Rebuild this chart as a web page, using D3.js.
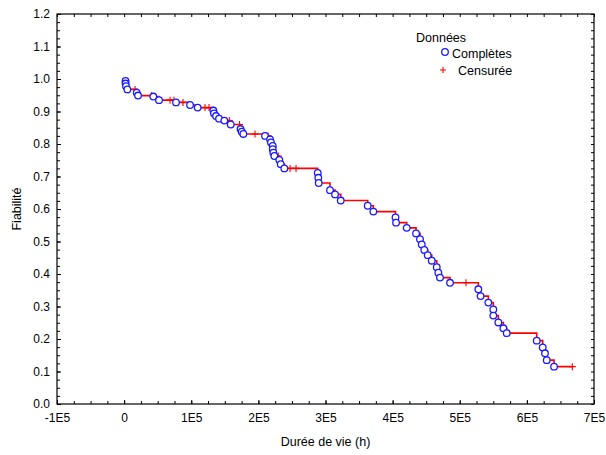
<!DOCTYPE html>
<html>
<head>
<meta charset="utf-8">
<script src="https://cdn.jsdelivr.net/npm/d3@7"></script>
<style>
  html, body { margin: 0; padding: 0; background: #fff; }
  svg text { font-family: "Liberation Sans", Arial, sans-serif; fill: #000; }
</style>
</head>
<body>
<svg id="chart" width="606" height="455"></svg>
<script>
// Failures (complete observations): time in hours and reliability estimate
const completeTime = [2100, 2100, 2800, 4800, 18800, 20700, 43500, 52000, 77300, 98200,
  109600, 132900, 133900, 136900, 141400, 149300, 158800, 173400, 175200, 177600,
  209900, 217400, 218800, 221400, 221400, 222300, 223800, 231200, 233300, 238700,
  288400, 289300, 289900, 306700, 314200, 322700, 362900, 371300, 404300, 405100,
  421000, 434900, 440800, 443400, 447200, 452300, 458300, 465700, 468100, 470600,
  485500, 527700, 531000, 542600, 550000, 550000, 557500, 565000, 570000, 614700,
  623600, 627000, 629600, 640500];
const completeRel = [0.994, 0.986, 0.978, 0.968, 0.958, 0.949, 0.946, 0.935, 0.928, 0.920,
  0.912, 0.903, 0.894, 0.886, 0.878, 0.872, 0.860, 0.846, 0.838, 0.831,
  0.825, 0.814, 0.805, 0.794, 0.784, 0.773, 0.763, 0.751, 0.738, 0.725,
  0.711, 0.696, 0.680, 0.658, 0.645, 0.626, 0.610, 0.592, 0.574, 0.558,
  0.542, 0.525, 0.507, 0.491, 0.474, 0.458, 0.441, 0.421, 0.404, 0.389,
  0.373, 0.353, 0.332, 0.312, 0.291, 0.272, 0.251, 0.233, 0.218, 0.195,
  0.174, 0.156, 0.135, 0.115];

// Censored observations
const censorTime = [16200, 41100, 68400, 74300, 87700, 120500, 126500, 156700, 171900,
  195000, 214500, 229700, 247200, 256100, 509300, 667700];
const censorRel = [0.968, 0.949, 0.935, 0.935, 0.928, 0.912, 0.912, 0.872, 0.860,
  0.831, 0.825, 0.763, 0.725, 0.725, 0.373, 0.115];

// Axis ticks
const xTicks = [-100000, 0, 100000, 200000, 300000, 400000, 500000, 600000, 700000];
const yTicks = [0.0, 0.1, 0.2, 0.3, 0.4, 0.5, 0.6, 0.7, 0.8, 0.9, 1.0, 1.1, 1.2];

const svg = d3.select("#chart");
const pL = 57, pR = 594, pT = 14, pB = 404;

const x = d3.scaleLinear().domain([-100000, 700000]).range([pL, pR]);
const y = d3.scaleLinear().domain([0, 1.2]).range([pB, pT]);

const xMinor = d3.range(-100000, 700001, 25000);
const yMinor = d3.range(0, 49).map(i => i * 0.025);

const fmtX = d => d === 0 ? "0" : (d / 100000) + "E5";
const fmtY = d3.format(".1f");

// Inward ticks on all four sides
function tickMarks(g, axis) {
  g.call(axis);
  g.select(".domain").remove();
  g.selectAll("line").attr("stroke", "#000");
}

svg.append("g").attr("transform", `translate(0,${pB})`)
  .call(g => tickMarks(g, d3.axisBottom(x).tickValues(xMinor).tickSize(-3).tickFormat("")));
svg.append("g").attr("transform", `translate(0,${pT})`)
  .call(g => tickMarks(g, d3.axisTop(x).tickValues(xMinor).tickSize(-3).tickFormat("")));
svg.append("g").attr("transform", `translate(${pL},0)`)
  .call(g => tickMarks(g, d3.axisLeft(y).tickValues(yMinor).tickSize(-3).tickFormat("")));
svg.append("g").attr("transform", `translate(${pR},0)`)
  .call(g => tickMarks(g, d3.axisRight(y).tickValues(yMinor).tickSize(-3).tickFormat("")));

// Labelled axes
const xAxis = svg.append("g").attr("transform", `translate(0,${pB})`)
  .call(d3.axisBottom(x).tickValues(xTicks).tickSize(-4).tickPadding(9).tickFormat(fmtX));
xAxis.select(".domain").remove();
xAxis.selectAll("line").attr("stroke", "#000");
xAxis.selectAll("text").attr("font-size", 12).style("font-family", "Liberation Sans, Arial, sans-serif");

const yAxis = svg.append("g").attr("transform", `translate(${pL},0)`)
  .call(d3.axisLeft(y).tickValues(yTicks).tickSize(-4).tickPadding(7).tickFormat(fmtY));
yAxis.select(".domain").remove();
yAxis.selectAll("line").attr("stroke", "#000");
yAxis.selectAll("text").attr("font-size", 12).style("font-family", "Liberation Sans, Arial, sans-serif");

// Frame
svg.append("rect").attr("x", pL).attr("y", pT)
  .attr("width", pR - pL).attr("height", pB - pT)
  .attr("fill", "none").attr("stroke", "#000").attr("stroke-width", 1.2);

// Axis titles
svg.append("text").attr("x", (pL + pR) / 2).attr("y", 446)
  .attr("text-anchor", "middle").attr("font-size", 12.5).text("Durée de vie (h)");
svg.append("text").attr("transform", `translate(21,${(pT + pB) / 2}) rotate(-90)`)
  .attr("text-anchor", "middle").attr("font-size", 12.5).text("Fiabilité");

// Step curve through all observations in time order
const points = completeTime.map((t, i) => ({ t, r: completeRel[i] }))
  .concat(censorTime.map((t, i) => ({ t, r: censorRel[i] })))
  .sort((a, b) => a.t - b.t || b.r - a.r);

svg.append("path")
  .datum(points)
  .attr("fill", "none").attr("stroke", "#ff0000").attr("stroke-width", 1.6)
  .attr("d", d3.line().x(d => x(d.t)).y(d => y(d.r)).curve(d3.curveStepAfter));

// Censored markers
svg.append("g").selectAll("path")
  .data(censorTime.map((t, i) => ({ t, r: censorRel[i] })))
  .join("path")
  .attr("transform", d => `translate(${x(d.t)},${y(d.r)})`)
  .attr("d", "M-3.5,0H3.5M0,-3.5V3.5")
  .attr("stroke", "#ff0000").attr("stroke-width", 1.1);

// Failure markers
svg.append("g").selectAll("circle")
  .data(completeTime.map((t, i) => ({ t, r: completeRel[i] })))
  .join("circle")
  .attr("cx", d => x(d.t)).attr("cy", d => y(d.r)).attr("r", 3.3)
  .attr("fill", "#fff").attr("stroke", "#1a1aff").attr("stroke-width", 1.3);

// Legend
const lg = svg.append("g");
lg.append("text").attr("x", 416).attr("y", 42).attr("font-size", 12.5).text("Données");
lg.append("circle").attr("cx", 445).attr("cy", 52).attr("r", 3.3)
  .attr("fill", "#fff").attr("stroke", "#1a1aff").attr("stroke-width", 1.3);
lg.append("text").attr("x", 452).attr("y", 58).attr("font-size", 12.5).text("Complètes");
lg.append("path").attr("transform", "translate(443,70)")
  .attr("d", "M-3,0H3M0,-3V3").attr("stroke", "#ff0000").attr("stroke-width", 1.1);
lg.append("text").attr("x", 458).attr("y", 75).attr("font-size", 12.5).text("Censurée");
</script>
</body>
</html>
